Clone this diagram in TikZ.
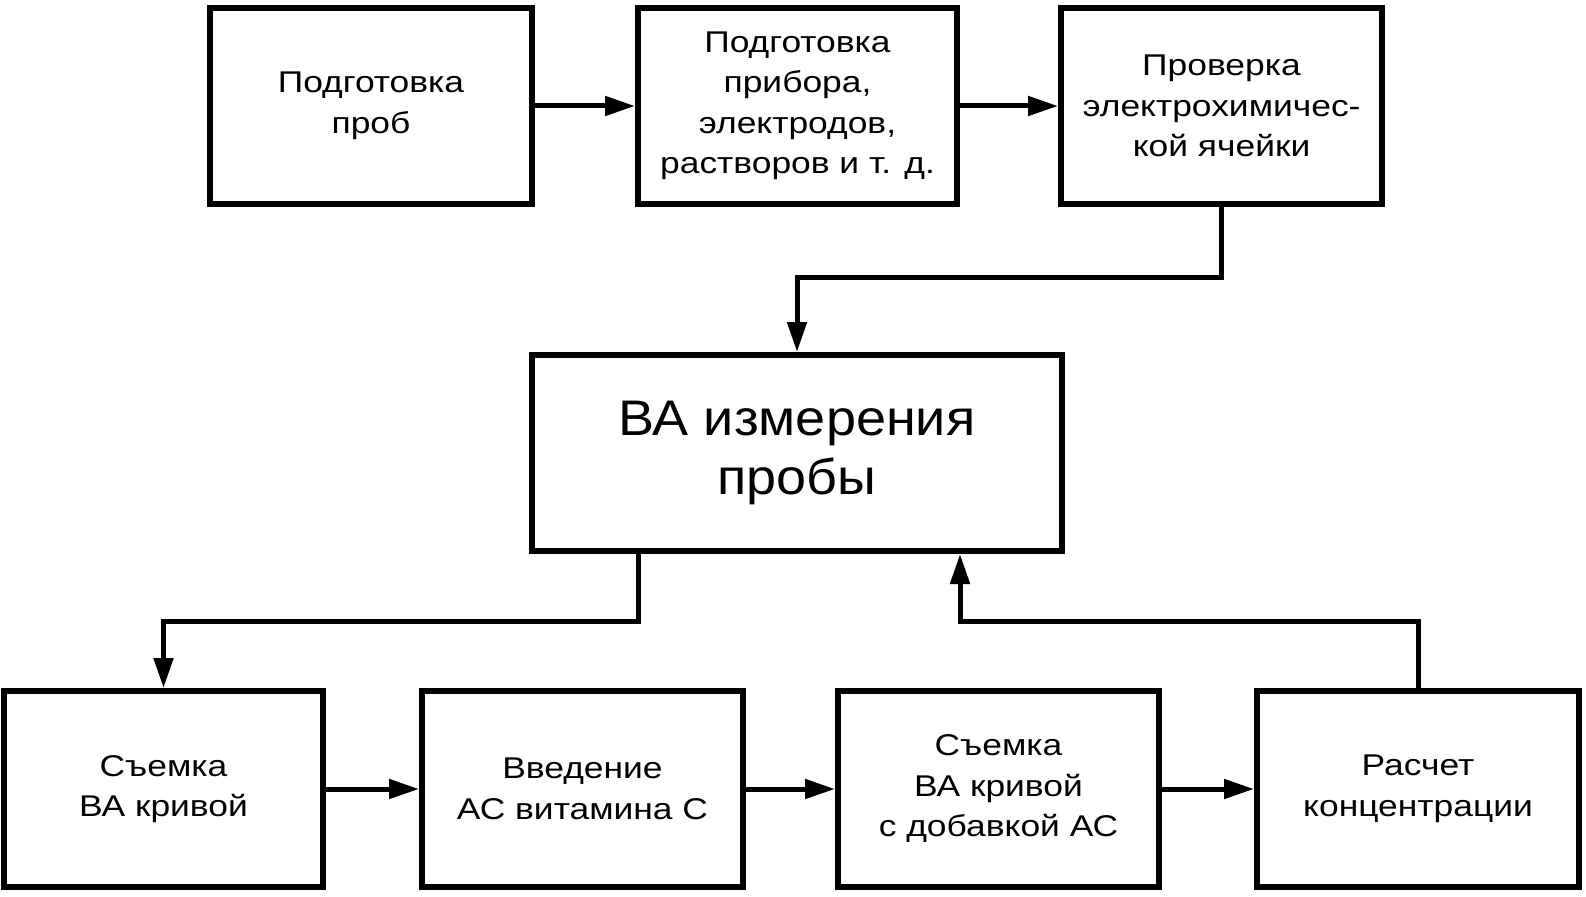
\documentclass[tikz,border=0pt]{standalone}
\usepackage{fontspec}
\setmainfont{Liberation Sans}
\newfontfamily\boxfont[FakeStretch=1.18]{Liberation Sans}
\newfontfamily\bigfont[FakeStretch=1.08]{Liberation Sans}
\usetikzlibrary{arrows.meta}
\tikzset{
  blk/.style={draw, line width=6pt, inner sep=0pt, align=center,
    font=\boxfont\fontsize{30}{40.5}\selectfont},
  bigblk/.style={blk, font=\bigfont\fontsize{50}{59}\selectfont},
  arr/.style={line width=5pt, -{Triangle[length=30pt,width=19pt]}},
  ln/.style={line width=5pt},
}
\begin{document}
\begin{tikzpicture}[x=1pt,y=-1pt]
\useasboundingbox (0,0) rectangle (1586,896);
\node[blk, minimum width=322pt, minimum height=196pt] (t1) at (371,106) {Подготовка\\проб};
\node[blk, minimum width=319pt, minimum height=196pt] (t2) at (797.5,106) {Подготовка\\прибора,\\электродов,\\растворов и т. д.};
\node[blk, minimum width=321pt, minimum height=196pt] (t3) at (1221.5,106) {Проверка\\электрохимичес-\\кой ячейки};
\node[bigblk, minimum width=530pt, minimum height=196pt] (m) at (797,453) {ВА измерения\\пробы};
\node[blk, minimum width=319pt, minimum height=196pt] (b1) at (163.5,789) {Съемка\\ВА кривой};
\node[blk, minimum width=321pt, minimum height=196pt] (b2) at (582.5,789) {Введение\\АС витамина С};
\node[blk, minimum width=321pt, minimum height=196pt] (b3) at (998.5,789) {Съемка\\ВА кривой\\с добавкой АС};
\node[blk, minimum width=322pt, minimum height=196pt] (b4) at (1418,789) {Расчет\\концентрации};

\coordinate (c1) at (797,277);
\coordinate (j1) at (638,621);
\coordinate (j2) at (960,621);

\draw[arr] (t1) -- (t2);
\draw[arr] (t2) -- (t3);
\draw[arr] (t3.south) |- (c1) -- (m.north);
\draw[arr] (m.south -| j1) -- (j1) -- (b1.north |- j1) -- (b1.north);
\draw[arr] (b4.north) |- (j2) -- (m.south -| j2);
\draw[arr] (b1) -- (b2);
\draw[arr] (b2) -- (b3);
\draw[arr] (b3) -- (b4);
\end{tikzpicture}
\end{document}
